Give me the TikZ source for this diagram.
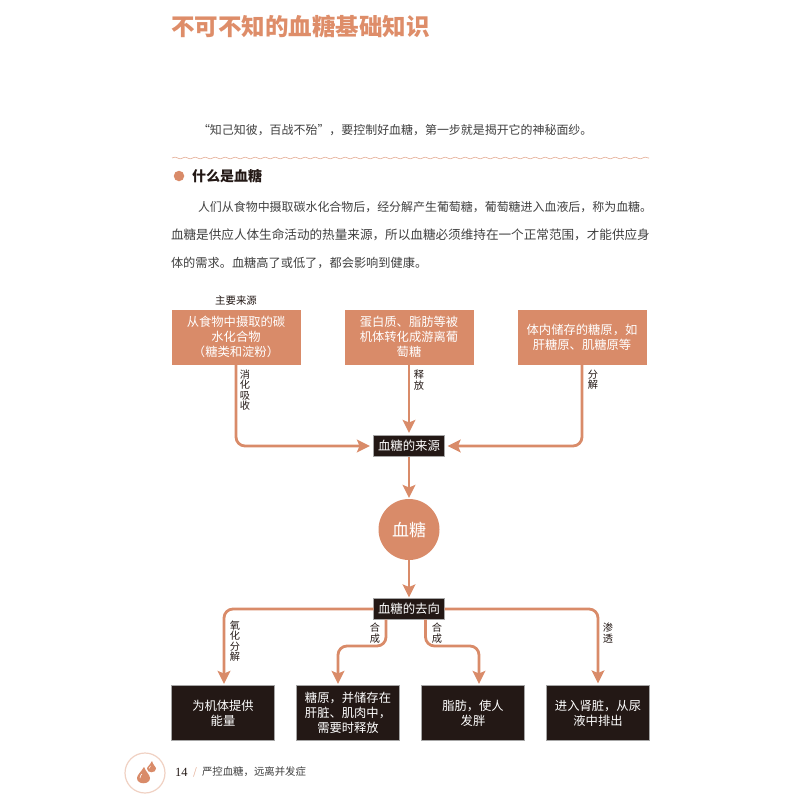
\documentclass[tikz,border=0pt]{standalone}
\usepackage{fontspec}
\setmainfont{Noto Sans CJK SC}
\newfontfamily\numf{Liberation Serif}
\usetikzlibrary{arrows.meta,decorations.pathmorphing}
\definecolor{sal}{HTML}{D98B69}
\definecolor{ink}{HTML}{231815}
\definecolor{body}{HTML}{404040}
\definecolor{titlec}{HTML}{DE8D69}
\begin{document}
\begin{tikzpicture}[x=1pt,y=-1pt,
  pt/.style={inner sep=0pt,outer sep=0pt},
  src/.style={pt,fill=sal,text=white,align=center,minimum width=129pt,minimum height=55pt,font=\fontsize{12.3}{14.8}\selectfont},
  res/.style={pt,fill=ink,draw=black!35,line width=0.4pt,text=white,align=center,minimum width=103pt,minimum height=55pt,font=\fontsize{12.3}{14.8}\selectfont},
  hub/.style={pt,fill=ink,draw=black!35,line width=0.4pt,text=white,minimum width=71pt,minimum height=21pt,font=\fontsize{12.4}{14}\selectfont},
  vlab/.style={pt,align=center,text=ink,font=\fontsize{10.2}{10.4}\selectfont},
  txt/.style={pt,anchor=west,text=body},
  con/.style={draw=sal,line width=2.8pt,rounded corners=9pt},
  arr/.style={con,-{Stealth[length=13pt,width=12.5pt,inset=2.5pt]},shorten >=2pt}]
\useasboundingbox (0,0) rectangle (800,800);
\node[pt,anchor=west,text=titlec,font=\fontsize{23.5}{26}\selectfont\bfseries] (title) at (171,26) {不可不知的血糖基础知识};
\node[txt,font=\fontsize{11.95}{14}\selectfont] (intro) at (198,130) {“知己知彼，百战不殆”，要控制好血糖，第一步就是揭开它的神秘面纱。};
\coordinate (wa) at (172,158); \coordinate (wb) at (649,158);
\draw[sal!75,line width=0.6pt,decorate,decoration={snake,amplitude=0.9pt,segment length=10pt}] (wa) -- (wb);
\node[pt,circle,fill=sal,minimum size=10.5pt] (dot) at (179,176) {};
\node[txt,text=ink,font=\fontsize{14}{16}\selectfont\bfseries] (head) at (192,176) {什么是血糖};
\node[txt,font=\fontsize{11.95}{14}\selectfont] (p1) at (198,207) {人们从食物中摄取碳水化合物后，经分解产生葡萄糖，葡萄糖进入血液后，称为血糖。};
\node[txt,font=\fontsize{12.6}{14}\selectfont] (p2) at (171,235) {血糖是供应人体生命活动的热量来源，所以血糖必须维持在一个正常范围，才能供应身};
\node[txt,font=\fontsize{12.2}{14}\selectfont] (p3) at (171,263) {体的需求。血糖高了或低了，都会影响到健康。};

\node[pt,text=ink,font=\fontsize{10.4}{12}\selectfont] (main) at (236,301) {主要来源};
\node[src] (s1) at (236,337) {从食物中摄取的碳\\水化合物\\（糖类和淀粉）};
\node[src] (s2) at (409,337) {蛋白质、脂肪等被\\机体转化成游离葡\\萄糖};
\node[src] (s3) at (582,337) {体内储存的糖原，如\\肝糖原、肌糖原等};
\node[hub] (from) at (409,446) {血糖的来源};
\node[pt,circle,fill=sal,text=white,minimum size=61pt,font=\fontsize{17}{20}\selectfont] (bg) at (409,529.5) {血糖};
\node[hub] (to) at (409,609) {血糖的去向};
\node[res] (r1) at (223,713) {为机体提供\\能量};
\node[res] (r2) at (348,713) {糖原，并储存在\\肝脏、肌肉中，\\需要时释放};
\node[res] (r3) at (473,713) {脂肪，使人\\发胖};
\node[res] (r4) at (598,713) {进入肾脏，从尿\\液中排出};

\draw[arr,shorten >=3.5pt] (s1.south) -- (s1.south|-from) -- (from.west);
\draw[arr,shorten >=2.5pt] (s2.south) -- (from.north);
\draw[arr,shorten >=3pt] (s3.south) -- (s3.south|-from) -- (from.east);
\draw[arr,shorten >=1pt] (from.south) -- (bg.north);
\draw[arr,shorten >=1pt] (bg.south) -- (to.north);
\coordinate (e1) at (224,686); \coordinate (e2) at (338,686); \coordinate (e3) at (479,686);
\draw[arr] (to.west) -- (e1|-to) -- (e1);
\draw[arr] (to.east) -- (r4.north|-to) -- (r4.north);
\coordinate (l) at (386,646); \coordinate (rr) at (425.5,646);
\draw[arr] (l|-to.south) -- (l) -- (e2|-l) -- (e2);
\draw[arr] (rr|-to.south) -- (rr) -- (e3|-rr) -- (e3);

\node[vlab] at (245,390) {消\\化\\吸\\收};
\node[vlab] at (419,380) {释\\放};
\node[vlab] at (593,380) {分\\解};
\node[vlab] at (235,641) {氧\\化\\分\\解};
\node[vlab] at (375,633) {合\\成};
\node[vlab] at (437,633) {合\\成};
\node[vlab] at (608,633) {渗\\透};

\node[pt,circle,draw=sal!40,line width=1.2pt,fill=white,minimum size=40pt] (badge) at (145,773) {};
\fill[sal] (144,767) .. controls (141,772) and (137,775) .. (137,778) .. controls (137,785) and (150,785) .. (150,778) .. controls (150,775) and (146,772) .. (144,767) -- cycle;
\fill[sal] (152,761) .. controls (150,765) and (147,767) .. (147,768.5) .. controls (147,773.5) and (156,773.5) .. (156,768.5) .. controls (156,767) and (153,765) .. (152,761) -- cycle;
\draw[white,line width=0.6pt,line cap=round] (140,778) .. controls (140,776) and (141,775) .. (142,774);
\draw[white,line width=0.5pt,line cap=round] (149,768.5) .. controls (149,767.5) and (150,766.5) .. (150.5,766);
\node[pt,anchor=west,text=ink,font=\numf\fontsize{12.5}{14}\selectfont] (pn) at (175,772) {14};
\node[pt,anchor=west,text=sal!70,font=\fontsize{10}{12}\selectfont] (sl) at (193,772) {/};
\node[pt,anchor=west,text=body,font=\fontsize{10.4}{12}\selectfont] (ft) at (202,772) {严控血糖，远离并发症};
\end{tikzpicture}
\end{document}
